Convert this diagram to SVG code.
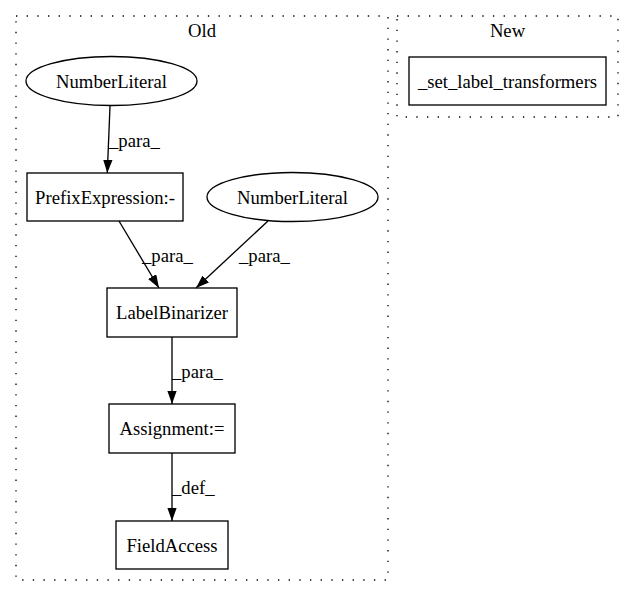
<svg xmlns="http://www.w3.org/2000/svg" width="633" height="596" viewBox="0 0 633 596">
<style>
text{font-family:"Liberation Serif","Times New Roman",serif;font-size:18.67px;fill:#000}
.c{fill:none;stroke:#000;stroke-width:1.33;stroke-dasharray:1.33,9.33}
.n{fill:none;stroke:#000;stroke-width:1.33}
.e{fill:none;stroke:#000;stroke-width:1.33}
</style>
<defs>
<marker id="ah" viewBox="0 0 13.3 9.4" refX="13.3" refY="4.7" markerWidth="13.3" markerHeight="9.4" markerUnits="userSpaceOnUse" orient="auto">
<path d="M0,0 L13.3,4.7 L0,9.4 Z" fill="#000"/>
</marker>
</defs>
<rect width="633" height="596" fill="#fff"/>
<g id="cluster_old">
<rect class="c" x="16" y="16" width="372" height="564"/>
<text x="202" y="37" text-anchor="middle">Old</text>
</g>
<g id="cluster_new">
<rect class="c" x="397" y="16" width="221" height="101"/>
<text x="507.5" y="37" text-anchor="middle">New</text>
</g>
<g id="connectors">
<path class="e" d="M110,106 L107.3,173" marker-end="url(#ah)"/>
<text x="109" y="147">_para_</text>
<path class="e" d="M119,221 L159,288" marker-end="url(#ah)"/>
<text x="142" y="262">_para_</text>
<path class="e" d="M268,221 L196,288" marker-end="url(#ah)"/>
<text x="239" y="262">_para_</text>
<path class="e" d="M172,337 L172,404" marker-end="url(#ah)"/>
<text x="172" y="378">_para_</text>
<path class="e" d="M172,453 L172,521" marker-end="url(#ah)"/>
<text x="172" y="494">_def_</text>
</g>
<g id="n_numlit1">
<ellipse class="n" cx="111.5" cy="81" rx="85.5" ry="24.5"/>
<text x="111.5" y="87.5" text-anchor="middle">NumberLiteral</text>
</g>
<g id="n_prefix">
<rect class="n" x="27" y="173" width="156" height="48"/>
<text x="105" y="203.5" text-anchor="middle">PrefixExpression:-</text>
</g>
<g id="n_numlit2">
<ellipse class="n" cx="292.5" cy="197" rx="85.5" ry="24.5"/>
<text x="292.5" y="203.5" text-anchor="middle">NumberLiteral</text>
</g>
<g id="n_labelbin">
<rect class="n" x="107" y="288" width="130" height="49"/>
<text x="172" y="319" text-anchor="middle">LabelBinarizer</text>
</g>
<g id="n_assign">
<rect class="n" x="109" y="404" width="126" height="49"/>
<text x="172" y="435" text-anchor="middle">Assignment:=</text>
</g>
<g id="n_field">
<rect class="n" x="116" y="521" width="112" height="48"/>
<text x="172" y="551.5" text-anchor="middle">FieldAccess</text>
</g>
<g id="n_setlabel">
<rect class="n" x="409" y="57" width="197" height="48"/>
<text x="507.5" y="87.5" text-anchor="middle">_set_label_transformers</text>
</g>
</svg>
